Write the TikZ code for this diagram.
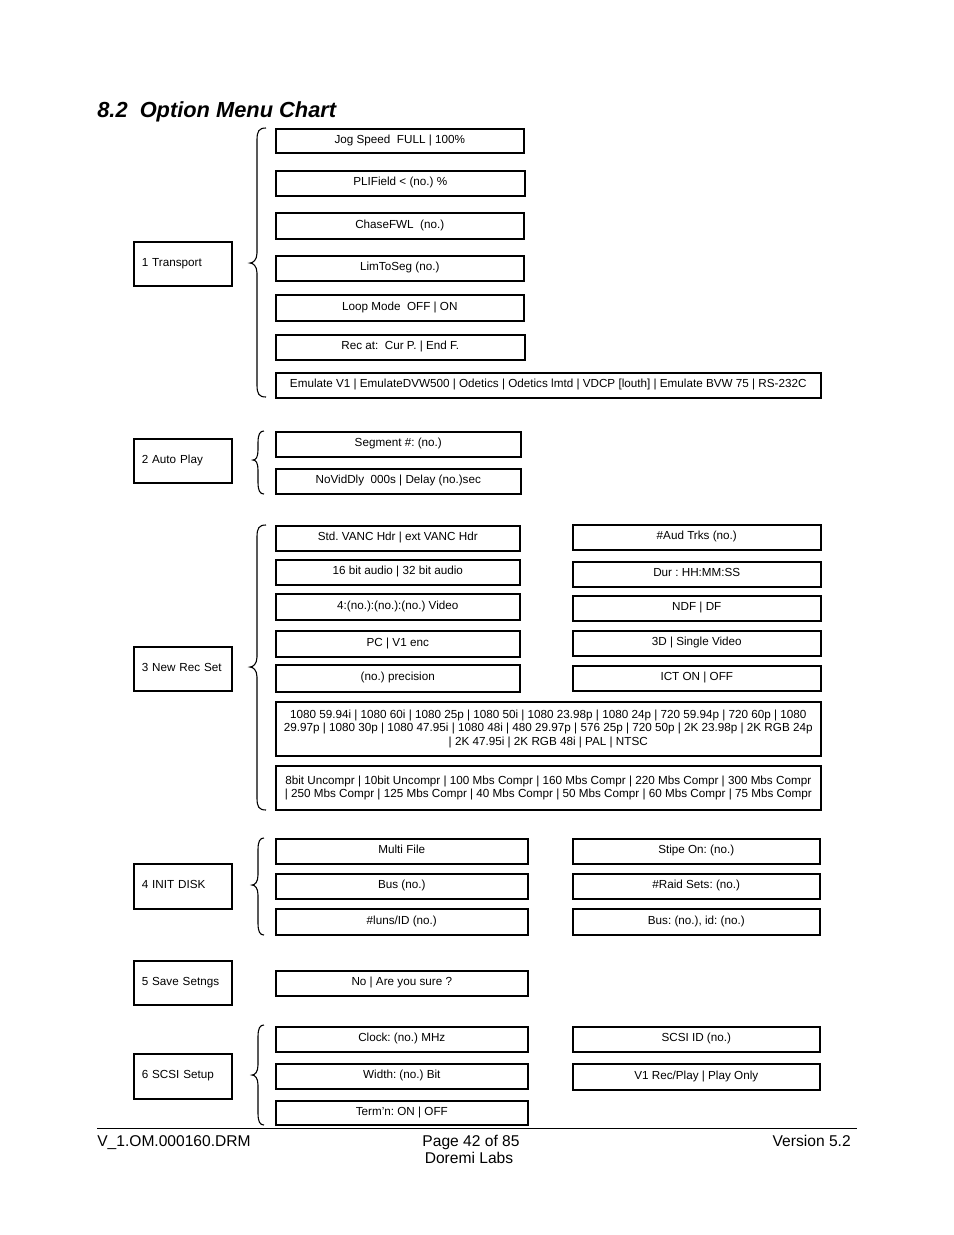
\documentclass[tikz,border=0pt]{standalone}
\usepackage{fontspec}
\setmainfont{Liberation Sans}
\frenchspacing
\newcommand\pxunit{0.6415pt}
\tikzset{
  box/.style={draw, line width=1pt, rectangle, inner sep=0pt, font=\fontsize{7.5}{8.7}\selectfont\frenchspacing, align=center, anchor=north west},
  oneline/.style={text height=5.4pt, text depth=2.4pt},
  mainbox/.style={draw, line width=1pt, rectangle, inner ysep=0pt, inner xsep=8*\pxunit, text width=82*\pxunit, align=left, font=\fontsize{7.5}{9}\selectfont, anchor=north west, minimum height=44*\pxunit, text height=5.4pt, text depth=2.4pt},
  brc/.style={line width=0.7pt},
  foot/.style={font=\fontsize{10}{12}\selectfont},
}
\newcommand\optbox[6]{\node[box, oneline, minimum width={(#4-#2)*\pxunit}, minimum height={(#5-#3)*\pxunit}] (#1) at (#2,#3) {#6};}
\newcommand\optboxm[6]{\node[box, minimum width={(#4-#2)*\pxunit}, minimum height={(#5-#3)*\pxunit}] (#1) at (#2,#3) {#6};}
\newcommand\lbr[6]{\draw[brc] (#6,#1) .. controls (#5+2,#1) and (#5,#1+3) .. (#5,#1+12) -- (#5,#3-10) .. controls (#5,#3-3) and (#4+3,#3) .. (#4,#3) .. controls (#4+3,#3) and (#5,#3+3) .. (#5,#3+10) -- (#5,#2-12) .. controls (#5,#2-3) and (#5+2,#2) .. (#6,#2);}
\begin{document}
\begin{tikzpicture}[x=\pxunit, y=-\pxunit]
\useasboundingbox (0,0) rectangle (954,1235);
% title
\node[anchor=base west, inner sep=0pt, font=\fontsize{14}{16}\selectfont\bfseries\itshape] (title) at (97,117) {8.2~~Option Menu Chart};
% main boxes
\node[mainbox] (m1) at (133,241) {1 Transport};
\node[mainbox] (m2) at (133,438) {2 Auto Play};
\node[mainbox] (m3) at (133,646) {3 New Rec Set};
\node[mainbox, minimum height=45*\pxunit] (m4) at (133,863) {4 INIT DISK};
\node[mainbox] (m5) at (133,960) {5 Save Setngs};
\node[mainbox, minimum height=45*\pxunit] (m6) at (133,1053) {6 SCSI Setup};
% 1 Transport
\optbox{t1}{275}{128}{523}{152}{Jog Speed~~FULL | 100\%}
\optbox{t2}{275}{170}{524}{195}{PLIField < (no.) \%}
\optbox{t3}{275}{212}{523}{238}{ChaseFWL~~(no.)}
\optbox{t4}{275}{255}{523}{280}{LimToSeg (no.)}
\optbox{t5}{275}{294}{523}{320}{Loop Mode~~OFF | ON}
\optbox{t6}{275}{334}{524}{359}{Rec at:~~Cur P. | End F.}
\optbox{t7}{275}{372}{820}{397}{Emulate V1 | EmulateDVW500 | Odetics | Odetics lmtd | VDCP [louth] | Emulate BVW 75 | RS-232C}
\lbr{128}{397}{263}{250}{257}{266}
% 2 Auto Play
\optbox{a1}{275}{431}{520}{456}{Segment \#: (no.)}
\optbox{a2}{275}{468}{520}{493}{NoVidDly~~000s | Delay (no.)sec}
\lbr{431}{494}{460}{253}{258}{264}
% 3 New Rec Set
\optbox{r1}{275}{525}{519}{550}{Std. VANC Hdr | ext VANC Hdr}
\optbox{r2}{275}{559}{519}{584}{16 bit audio | 32 bit audio}
\optbox{r3}{275}{593}{519}{619}{4:(no.):(no.):(no.) Video}
\optbox{r4}{275}{630}{519}{656}{PC | V1 enc}
\optbox{r5}{275}{664}{519}{691}{(no.) precision}
\optbox{s1}{572}{524}{820}{549}{\#Aud Trks (no.)}
\optbox{s2}{572}{561}{820}{586}{Dur : HH:MM:SS}
\optbox{s3}{572}{595}{820}{620}{NDF | DF}
\optbox{s4}{572}{630}{820}{655}{3D | Single Video}
\optbox{s5}{572}{665}{820}{690}{ICT ON | OFF}
\optboxm{w1}{275}{701}{820}{755}{1080 59.94i | 1080 60i | 1080 25p | 1080 50i | 1080 23.98p | 1080 24p | 720 59.94p | 720 60p | 1080\\29.97p | 1080 30p | 1080 47.95i | 1080 48i | 480 29.97p | 576 25p | 720 50p | 2K 23.98p | 2K RGB 24p\\| 2K 47.95i | 2K RGB 48i | PAL | NTSC}
\optboxm{w2}{275}{765}{820}{809}{8bit Uncompr | 10bit Uncompr | 100 Mbs Compr | 160 Mbs Compr | 220 Mbs Compr | 300 Mbs Compr\\| 250 Mbs Compr | 125 Mbs Compr | 40 Mbs Compr | 50 Mbs Compr | 60 Mbs Compr | 75 Mbs Compr}
\lbr{525}{810}{667}{250}{257}{266}
% 4 INIT DISK
\optbox{d1}{275}{838}{527}{863}{Multi File}
\optbox{d2}{275}{873}{527}{898}{Bus (no.)}
\optbox{d3}{275}{908}{527}{934}{\#luns/ID (no.)}
\optbox{e1}{572}{838}{819}{863}{Stipe On: (no.)}
\optbox{e2}{572}{873}{819}{898}{\#Raid Sets: (no.)}
\optbox{e3}{572}{908}{819}{934}{Bus: (no.), id: (no.)}
\lbr{838}{935}{885}{252}{258}{264}
% 5 Save Setngs
\optbox{v1}{275}{970}{527}{995}{No | Are you sure ?}
% 6 SCSI Setup
\optbox{c1}{275}{1026}{527}{1051}{Clock: (no.) MHz}
\optbox{c2}{275}{1063}{527}{1088}{Width: (no.) Bit}
\optbox{c3}{275}{1100}{527}{1124}{Term'n: ON | OFF}
\optbox{g1}{572}{1026}{819}{1051}{SCSI ID (no.)}
\optbox{g2}{572}{1063}{819}{1089}{V1 Rec/Play | Play Only}
\lbr{1025}{1125}{1075}{252}{258}{264}
% footer
\draw[line width=0.6pt] (97,1128) -- (857,1128);
\node[foot, anchor=base west, inner sep=0pt] (f1) at (97,1146) {V\_1.OM.000160.DRM};
\node[foot, anchor=base, inner sep=0pt] (f2) at (471,1146) {Page 42 of 85};
\node[foot, anchor=base, inner sep=0pt] (f3) at (469,1163) {Doremi Labs};
\node[foot, anchor=base east, inner sep=0pt] (f4) at (851,1146) {Version 5.2};
\end{tikzpicture}
\end{document}
